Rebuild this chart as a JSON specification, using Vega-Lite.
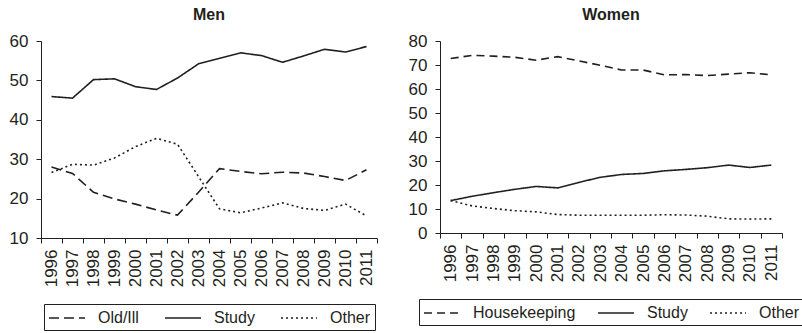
{
  "$schema": "https://vega.github.io/schema/vega-lite/v6.json",
  "background": "white",
  "padding": {"left": 9, "top": 7, "right": 0, "bottom": 1},
  "config": {
    "font": "Liberation Sans",
    "view": {"stroke": null},
    "axis": {"grid": false, "domainColor": "#231f20", "tickColor": "#231f20", "labelColor": "#231f20", "labelFontSize": 17, "labelFont": "Liberation Sans", "tickSize": 5, "domainWidth": 1, "tickWidth": 1, "title": null},
    "title": {"fontSize": 16, "fontWeight": "bold", "color": "#231f20", "font": "Liberation Sans", "offset": 9},
    "legend": {"strokeColor": "#231f20", "padding": 4, "labelFontSize": 16, "labelFont": "Liberation Sans", "labelColor": "#231f20", "symbolType": "M-1,0H3", "symbolFillColor": "transparent", "symbolStrokeColor": "#231f20", "symbolStrokeWidth": 1.5, "symbolSize": 324, "labelOffset": 30, "orient": "bottom", "direction": "horizontal", "offset": 17, "title": null, "gridAlign": "each", "layout": {"anchor": "middle"}},
    "concat": {"spacing": 30}
  },
  "resolve": {"scale": {"strokeDash": "independent", "x": "independent", "y": "independent"}, "legend": {"strokeDash": "independent"}},
  "hconcat": [
    {
      "title": "Men",
      "width": 336,
      "height": 197,
      "data": {"values": [
        {"year": "1996", "series": "Study", "value": 45.9},
        {"year": "1997", "series": "Study", "value": 45.5},
        {"year": "1998", "series": "Study", "value": 50.2},
        {"year": "1999", "series": "Study", "value": 50.4},
        {"year": "2000", "series": "Study", "value": 48.4},
        {"year": "2001", "series": "Study", "value": 47.7},
        {"year": "2002", "series": "Study", "value": 50.6},
        {"year": "2003", "series": "Study", "value": 54.2},
        {"year": "2004", "series": "Study", "value": 55.6},
        {"year": "2005", "series": "Study", "value": 57.0},
        {"year": "2006", "series": "Study", "value": 56.3},
        {"year": "2007", "series": "Study", "value": 54.6},
        {"year": "2008", "series": "Study", "value": 56.2},
        {"year": "2009", "series": "Study", "value": 57.9},
        {"year": "2010", "series": "Study", "value": 57.2},
        {"year": "2011", "series": "Study", "value": 58.6},
        {"year": "1996", "series": "Old/Ill", "value": 28.0},
        {"year": "1997", "series": "Old/Ill", "value": 26.4},
        {"year": "1998", "series": "Old/Ill", "value": 21.6},
        {"year": "1999", "series": "Old/Ill", "value": 19.9},
        {"year": "2000", "series": "Old/Ill", "value": 18.6},
        {"year": "2001", "series": "Old/Ill", "value": 17.1},
        {"year": "2002", "series": "Old/Ill", "value": 15.8},
        {"year": "2003", "series": "Old/Ill", "value": 21.6},
        {"year": "2004", "series": "Old/Ill", "value": 27.6},
        {"year": "2005", "series": "Old/Ill", "value": 26.9},
        {"year": "2006", "series": "Old/Ill", "value": 26.3},
        {"year": "2007", "series": "Old/Ill", "value": 26.7},
        {"year": "2008", "series": "Old/Ill", "value": 26.5},
        {"year": "2009", "series": "Old/Ill", "value": 25.6},
        {"year": "2010", "series": "Old/Ill", "value": 24.6},
        {"year": "2011", "series": "Old/Ill", "value": 27.3},
        {"year": "1996", "series": "Other", "value": 26.6},
        {"year": "1997", "series": "Other", "value": 28.7},
        {"year": "1998", "series": "Other", "value": 28.5},
        {"year": "1999", "series": "Other", "value": 30.3},
        {"year": "2000", "series": "Other", "value": 33.2},
        {"year": "2001", "series": "Other", "value": 35.3},
        {"year": "2002", "series": "Other", "value": 33.8},
        {"year": "2003", "series": "Other", "value": 25.6},
        {"year": "2004", "series": "Other", "value": 17.4},
        {"year": "2005", "series": "Other", "value": 16.4},
        {"year": "2006", "series": "Other", "value": 17.6},
        {"year": "2007", "series": "Other", "value": 18.9},
        {"year": "2008", "series": "Other", "value": 17.5},
        {"year": "2009", "series": "Other", "value": 17.0},
        {"year": "2010", "series": "Other", "value": 18.6},
        {"year": "2011", "series": "Other", "value": 15.6}
      ]},
      "mark": {"type": "line", "color": "#231f20", "strokeWidth": 1.6},
      "encoding": {
        "x": {"field": "year", "type": "ordinal", "scale": {"type": "band", "paddingInner": 0, "paddingOuter": 0}, "axis": {"labelAngle": -90, "tickBand": "extent", "labelPadding": 6}},
        "y": {"field": "value", "type": "quantitative", "scale": {"domain": [10, 60], "nice": false, "zero": false}, "axis": {"values": [10, 20, 30, 40, 50, 60], "labelPadding": 8}},
        "strokeDash": {"field": "series", "type": "nominal", "scale": {"domain": ["Old/Ill", "Study", "Other"], "range": [[10, 5], [1, 0], [2, 3]]}, "legend": {"columnPadding": 23}}
      }
    },
    {
      "title": "Women",
      "width": 342,
      "height": 192,
      "data": {"values": [
        {"year": "1996", "series": "Housekeeping", "value": 72.7},
        {"year": "1997", "series": "Housekeeping", "value": 74.0},
        {"year": "1998", "series": "Housekeeping", "value": 73.7},
        {"year": "1999", "series": "Housekeeping", "value": 73.2},
        {"year": "2000", "series": "Housekeeping", "value": 72.0},
        {"year": "2001", "series": "Housekeeping", "value": 73.5},
        {"year": "2002", "series": "Housekeeping", "value": 71.7},
        {"year": "2003", "series": "Housekeeping", "value": 69.9},
        {"year": "2004", "series": "Housekeeping", "value": 67.9},
        {"year": "2005", "series": "Housekeeping", "value": 67.9},
        {"year": "2006", "series": "Housekeeping", "value": 65.9},
        {"year": "2007", "series": "Housekeeping", "value": 66.0},
        {"year": "2008", "series": "Housekeeping", "value": 65.6},
        {"year": "2009", "series": "Housekeeping", "value": 66.2},
        {"year": "2010", "series": "Housekeeping", "value": 66.8},
        {"year": "2011", "series": "Housekeeping", "value": 65.9},
        {"year": "1996", "series": "Study", "value": 13.5},
        {"year": "1997", "series": "Study", "value": 15.3},
        {"year": "1998", "series": "Study", "value": 16.8},
        {"year": "1999", "series": "Study", "value": 18.2},
        {"year": "2000", "series": "Study", "value": 19.4},
        {"year": "2001", "series": "Study", "value": 18.8},
        {"year": "2002", "series": "Study", "value": 21.1},
        {"year": "2003", "series": "Study", "value": 23.2},
        {"year": "2004", "series": "Study", "value": 24.4},
        {"year": "2005", "series": "Study", "value": 24.8},
        {"year": "2006", "series": "Study", "value": 25.9},
        {"year": "2007", "series": "Study", "value": 26.5},
        {"year": "2008", "series": "Study", "value": 27.2},
        {"year": "2009", "series": "Study", "value": 28.3},
        {"year": "2010", "series": "Study", "value": 27.3},
        {"year": "2011", "series": "Study", "value": 28.3},
        {"year": "1996", "series": "Other", "value": 13.5},
        {"year": "1997", "series": "Other", "value": 11.3},
        {"year": "1998", "series": "Other", "value": 10.2},
        {"year": "1999", "series": "Other", "value": 9.3},
        {"year": "2000", "series": "Other", "value": 8.8},
        {"year": "2001", "series": "Other", "value": 7.7},
        {"year": "2002", "series": "Other", "value": 7.4},
        {"year": "2003", "series": "Other", "value": 7.4},
        {"year": "2004", "series": "Other", "value": 7.4},
        {"year": "2005", "series": "Other", "value": 7.4},
        {"year": "2006", "series": "Other", "value": 7.6},
        {"year": "2007", "series": "Other", "value": 7.5},
        {"year": "2008", "series": "Other", "value": 7.0},
        {"year": "2009", "series": "Other", "value": 5.9},
        {"year": "2010", "series": "Other", "value": 5.8},
        {"year": "2011", "series": "Other", "value": 5.9}
      ]},
      "mark": {"type": "line", "color": "#231f20", "strokeWidth": 1.6},
      "encoding": {
        "x": {"field": "year", "type": "ordinal", "scale": {"type": "band", "paddingInner": 0, "paddingOuter": 0}, "axis": {"labelAngle": -90, "tickBand": "extent", "labelPadding": 6}},
        "y": {"field": "value", "type": "quantitative", "scale": {"domain": [0, 80], "nice": false}, "axis": {"values": [0, 10, 20, 30, 40, 50, 60, 70, 80], "labelPadding": 8}},
        "strokeDash": {"field": "series", "type": "nominal", "scale": {"domain": ["Housekeeping", "Study", "Other"], "range": [[8, 5], [1, 0], [2, 3]]}, "legend": {"columnPadding": 19}}
      }
    }
  ]
}
